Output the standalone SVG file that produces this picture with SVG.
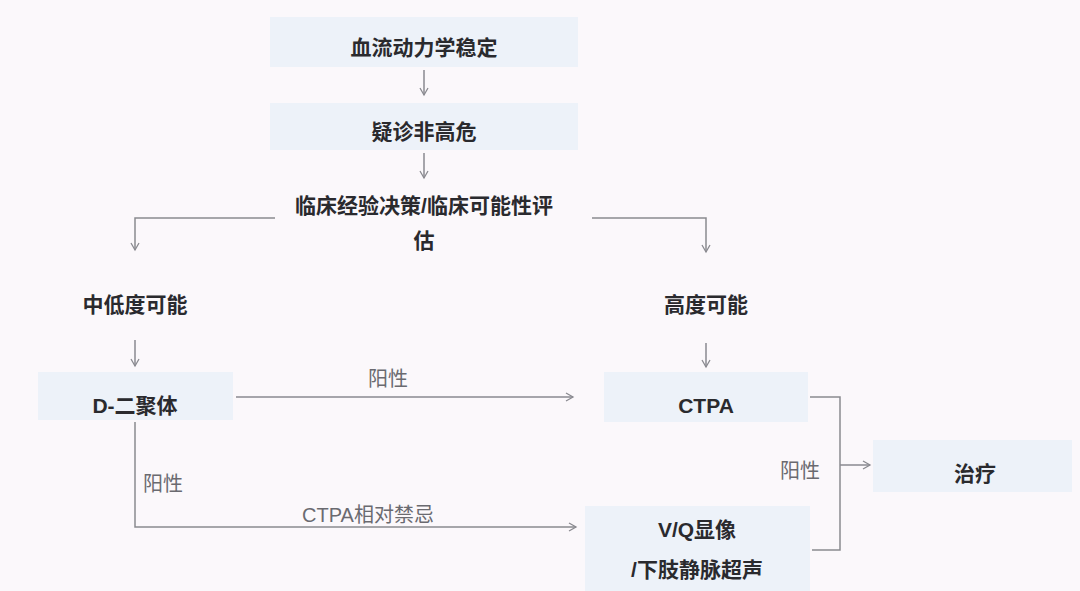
<svg xmlns="http://www.w3.org/2000/svg" width="1080" height="591" viewBox="0 0 1080 591">
<style>
.b{fill:#edf2f9}
.t{font-family:"Liberation Sans","Noto Sans CJK SC",sans-serif;font-size:21px;font-weight:bold;fill:#2a2a2e;text-anchor:middle}
.l{font-family:"Liberation Sans","Noto Sans CJK SC",sans-serif;font-size:20px;fill:#6a6a70;text-anchor:middle}
.c{stroke:#8a8a90;stroke-width:1.5;fill:none}
</style>
<defs><marker id="a" markerWidth="10" markerHeight="10" refX="8" refY="5" orient="auto" markerUnits="userSpaceOnUse"><path d="M1,1 L8,5 L1,9" fill="none" stroke="#8a8a90" stroke-width="1.3"/></marker></defs>
<rect width="1080" height="591" fill="#fbf8fb"/>
<g id="n1"><rect class="b" x="270" y="17" width="308" height="50"/><text class="t" x="424" y="55">血流动力学稳定</text></g>
<g id="n2"><rect class="b" x="270" y="103" width="308" height="47"/><text class="t" x="424" y="139">疑诊非高危</text></g>
<g id="n3"><text class="t" x="424" y="213">临床经验决策/临床可能性评</text><text class="t" x="424" y="248">估</text></g>
<g id="n4"><text class="t" x="135" y="312">中低度可能</text></g>
<g id="n5"><text class="t" x="706" y="312">高度可能</text></g>
<g id="n6"><rect class="b" x="38" y="372" width="195" height="48"/><text class="t" x="135" y="413">D-二聚体</text></g>
<g id="n7"><rect class="b" x="604" y="372" width="204" height="50"/><text class="t" x="706" y="413">CTPA</text></g>
<g id="n8"><rect class="b" x="585" y="506" width="225" height="85"/><text class="t" x="697" y="537">V/Q显像</text><text class="t" x="697" y="577">/下肢静脉超声</text></g>
<g id="n9"><rect class="b" x="873" y="440" width="199" height="52"/><text class="t" x="975" y="481">治疗</text></g>
<g id="edges">
<path class="c" d="M424,70 V95" marker-end="url(#a)"/>
<path class="c" d="M424,153 V178" marker-end="url(#a)"/>
<path class="c" d="M275,218 H135 V250" marker-end="url(#a)"/>
<path class="c" d="M592,218 H706 V252" marker-end="url(#a)"/>
<path class="c" d="M135,340 V366" marker-end="url(#a)"/>
<path class="c" d="M706,343 V367" marker-end="url(#a)"/>
<path class="c" d="M236,397 H573" marker-end="url(#a)"/>
<text class="l" x="388" y="386">阳性</text>
<path class="c" d="M135,422 V527 H576" marker-end="url(#a)"/>
<text class="l" x="163" y="491">阳性</text>
<text class="l" x="368" y="522">CTPA相对禁忌</text>
<path class="c" d="M810,397 H840 V550 H812"/>
<path class="c" d="M840,465 H870" marker-end="url(#a)"/>
<text class="l" x="800" y="478">阳性</text>
</g>
</svg>
